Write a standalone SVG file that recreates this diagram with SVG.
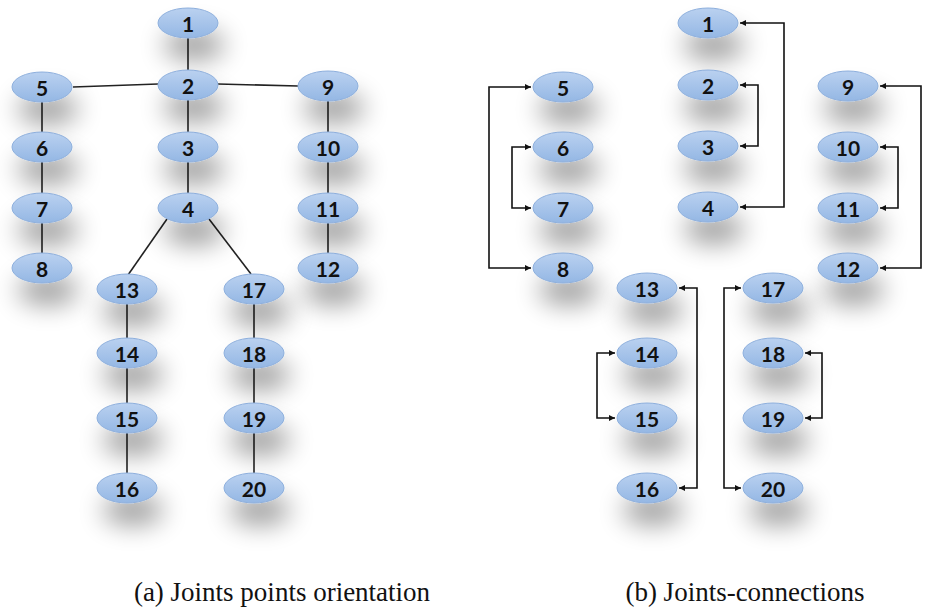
<svg xmlns="http://www.w3.org/2000/svg" width="926" height="608" viewBox="0 0 926 608">
<defs>
  <linearGradient id="g" x1="0" y1="0" x2="0" y2="1">
    <stop offset="0" stop-color="#bad1f0"/>
    <stop offset="1" stop-color="#94b7e4"/>
  </linearGradient>
  <filter id="sh" x="-120%" y="-120%" width="340%" height="460%">
    <feGaussianBlur in="SourceAlpha" stdDeviation="13"/>
    <feOffset dx="6" dy="22" result="b"/>
    <feComponentTransfer><feFuncA type="linear" slope="0.38"/></feComponentTransfer>
    <feMerge><feMergeNode/><feMergeNode in="SourceGraphic"/></feMerge>
  </filter>
  <marker id="ah" viewBox="0 0 10 10" refX="10" refY="5" markerWidth="7" markerHeight="6" markerUnits="userSpaceOnUse" orient="auto-start-reverse">
    <path d="M0,0 L10,5 L0,10 z" fill="#111"/>
  </marker>
  <style>
    .n ellipse { fill: url(#g); stroke: #8caedc; stroke-width: 1; filter: url(#sh); }
    .n text { font-family: Lato, "Open Sans", "Liberation Sans", sans-serif; font-weight: 700; font-size: 21px; fill: #111; text-anchor: middle; dominant-baseline: central; }
    .la line { stroke: #222; stroke-width: 1.6; }
    .lb path { fill: none; stroke: #111; stroke-width: 1.6; marker-start: url(#ah); marker-end: url(#ah); }
  </style>
</defs>
<rect width="926" height="608" fill="#fff"/>

<!-- panel (a) connectors -->
<g id="connectors-a" class="la">
  <line x1="188" y1="38" x2="188" y2="70"/>
  <line x1="73" y1="87" x2="158" y2="84"/>
  <line x1="218" y1="84" x2="298" y2="86"/>
  <line x1="188" y1="100" x2="188" y2="132"/>
  <line x1="188" y1="162" x2="188" y2="193"/>
  <line x1="167" y1="219" x2="128" y2="275"/>
  <line x1="209" y1="219" x2="251" y2="274"/>
  <line x1="42" y1="102" x2="42" y2="132"/>
  <line x1="42" y1="162" x2="42" y2="193"/>
  <line x1="42" y1="223" x2="42" y2="253"/>
  <line x1="328" y1="101" x2="328" y2="132"/>
  <line x1="328" y1="162" x2="328" y2="193"/>
  <line x1="328" y1="223" x2="328" y2="253"/>
  <line x1="127" y1="304" x2="127" y2="338"/>
  <line x1="127" y1="368" x2="127" y2="403"/>
  <line x1="127" y1="433" x2="127" y2="473"/>
  <line x1="254" y1="304" x2="254" y2="338"/>
  <line x1="254" y1="368" x2="254" y2="403"/>
  <line x1="254" y1="433" x2="254" y2="473"/>
</g>

<!-- panel (a) nodes -->
<g id="a1" class="n"><ellipse cx="188" cy="23" rx="30" ry="15"/><text x="188" y="23">1</text></g>
<g id="a2" class="n"><ellipse cx="188" cy="85" rx="30" ry="15"/><text x="188" y="85">2</text></g>
<g id="a3" class="n"><ellipse cx="188" cy="147" rx="30" ry="15"/><text x="188" y="147">3</text></g>
<g id="a4" class="n"><ellipse cx="188" cy="208" rx="30" ry="15"/><text x="188" y="208">4</text></g>
<g id="a5" class="n"><ellipse cx="42" cy="87" rx="30" ry="15"/><text x="42" y="87">5</text></g>
<g id="a6" class="n"><ellipse cx="42" cy="147" rx="30" ry="15"/><text x="42" y="147">6</text></g>
<g id="a7" class="n"><ellipse cx="42" cy="208" rx="30" ry="15"/><text x="42" y="208">7</text></g>
<g id="a8" class="n"><ellipse cx="42" cy="268" rx="30" ry="15"/><text x="42" y="268">8</text></g>
<g id="a9" class="n"><ellipse cx="328" cy="86" rx="30" ry="15"/><text x="328" y="86">9</text></g>
<g id="a10" class="n"><ellipse cx="328" cy="147" rx="30" ry="15"/><text x="328" y="147">10</text></g>
<g id="a11" class="n"><ellipse cx="328" cy="208" rx="30" ry="15"/><text x="328" y="208">11</text></g>
<g id="a12" class="n"><ellipse cx="328" cy="268" rx="30" ry="15"/><text x="328" y="268">12</text></g>
<g id="a13" class="n"><ellipse cx="127" cy="289" rx="30" ry="15"/><text x="127" y="289">13</text></g>
<g id="a14" class="n"><ellipse cx="127" cy="353" rx="30" ry="15"/><text x="127" y="353">14</text></g>
<g id="a15" class="n"><ellipse cx="127" cy="418" rx="30" ry="15"/><text x="127" y="418">15</text></g>
<g id="a16" class="n"><ellipse cx="127" cy="488" rx="30" ry="15"/><text x="127" y="488">16</text></g>
<g id="a17" class="n"><ellipse cx="254" cy="289" rx="30" ry="15"/><text x="254" y="289">17</text></g>
<g id="a18" class="n"><ellipse cx="254" cy="353" rx="30" ry="15"/><text x="254" y="353">18</text></g>
<g id="a19" class="n"><ellipse cx="254" cy="418" rx="30" ry="15"/><text x="254" y="418">19</text></g>
<g id="a20" class="n"><ellipse cx="254" cy="488" rx="30" ry="15"/><text x="254" y="488">20</text></g>

<!-- panel (b) connectors -->
<g id="connectors-b" class="lb">
  <path d="M740,23 H784 V207 H740"/>
  <path d="M740,85 H758 V146 H740"/>
  <path d="M531,87 H489 V268 H531"/>
  <path d="M531,147 H512 V208 H531"/>
  <path d="M880,86 H921 V268 H880"/>
  <path d="M880,147 H898 V208 H880"/>
  <path d="M679,288 H697 V488 H679"/>
  <path d="M615,353 H597 V418 H615"/>
  <path d="M741,288 H724 V488 H741"/>
  <path d="M805,353 H822 V418 H805"/>
</g>

<!-- panel (b) nodes -->
<g id="b1" class="n"><ellipse cx="708" cy="23" rx="30" ry="15"/><text x="708" y="23">1</text></g>
<g id="b2" class="n"><ellipse cx="708" cy="85" rx="30" ry="15"/><text x="708" y="85">2</text></g>
<g id="b3" class="n"><ellipse cx="708" cy="146" rx="30" ry="15"/><text x="708" y="146">3</text></g>
<g id="b4" class="n"><ellipse cx="708" cy="207" rx="30" ry="15"/><text x="708" y="207">4</text></g>
<g id="b5" class="n"><ellipse cx="563" cy="87" rx="30" ry="15"/><text x="563" y="87">5</text></g>
<g id="b6" class="n"><ellipse cx="563" cy="147" rx="30" ry="15"/><text x="563" y="147">6</text></g>
<g id="b7" class="n"><ellipse cx="563" cy="208" rx="30" ry="15"/><text x="563" y="208">7</text></g>
<g id="b8" class="n"><ellipse cx="563" cy="268" rx="30" ry="15"/><text x="563" y="268">8</text></g>
<g id="b9" class="n"><ellipse cx="848" cy="86" rx="30" ry="15"/><text x="848" y="86">9</text></g>
<g id="b10" class="n"><ellipse cx="848" cy="147" rx="30" ry="15"/><text x="848" y="147">10</text></g>
<g id="b11" class="n"><ellipse cx="848" cy="208" rx="30" ry="15"/><text x="848" y="208">11</text></g>
<g id="b12" class="n"><ellipse cx="848" cy="268" rx="30" ry="15"/><text x="848" y="268">12</text></g>
<g id="b13" class="n"><ellipse cx="647" cy="288" rx="30" ry="15"/><text x="647" y="288">13</text></g>
<g id="b14" class="n"><ellipse cx="647" cy="353" rx="30" ry="15"/><text x="647" y="353">14</text></g>
<g id="b15" class="n"><ellipse cx="647" cy="418" rx="30" ry="15"/><text x="647" y="418">15</text></g>
<g id="b16" class="n"><ellipse cx="647" cy="488" rx="30" ry="15"/><text x="647" y="488">16</text></g>
<g id="b17" class="n"><ellipse cx="773" cy="288" rx="30" ry="15"/><text x="773" y="288">17</text></g>
<g id="b18" class="n"><ellipse cx="773" cy="353" rx="30" ry="15"/><text x="773" y="353">18</text></g>
<g id="b19" class="n"><ellipse cx="773" cy="418" rx="30" ry="15"/><text x="773" y="418">19</text></g>
<g id="b20" class="n"><ellipse cx="773" cy="488" rx="30" ry="15"/><text x="773" y="488">20</text></g>

<text x="282" y="601" font-family="'Liberation Serif', 'Times New Roman', 'DejaVu Serif', serif" font-size="27" fill="#111" text-anchor="middle">(a) Joints points orientation</text>
<text x="745" y="601" font-family="'Liberation Serif', 'Times New Roman', 'DejaVu Serif', serif" font-size="27" fill="#111" text-anchor="middle">(b) Joints-connections</text>
</svg>
